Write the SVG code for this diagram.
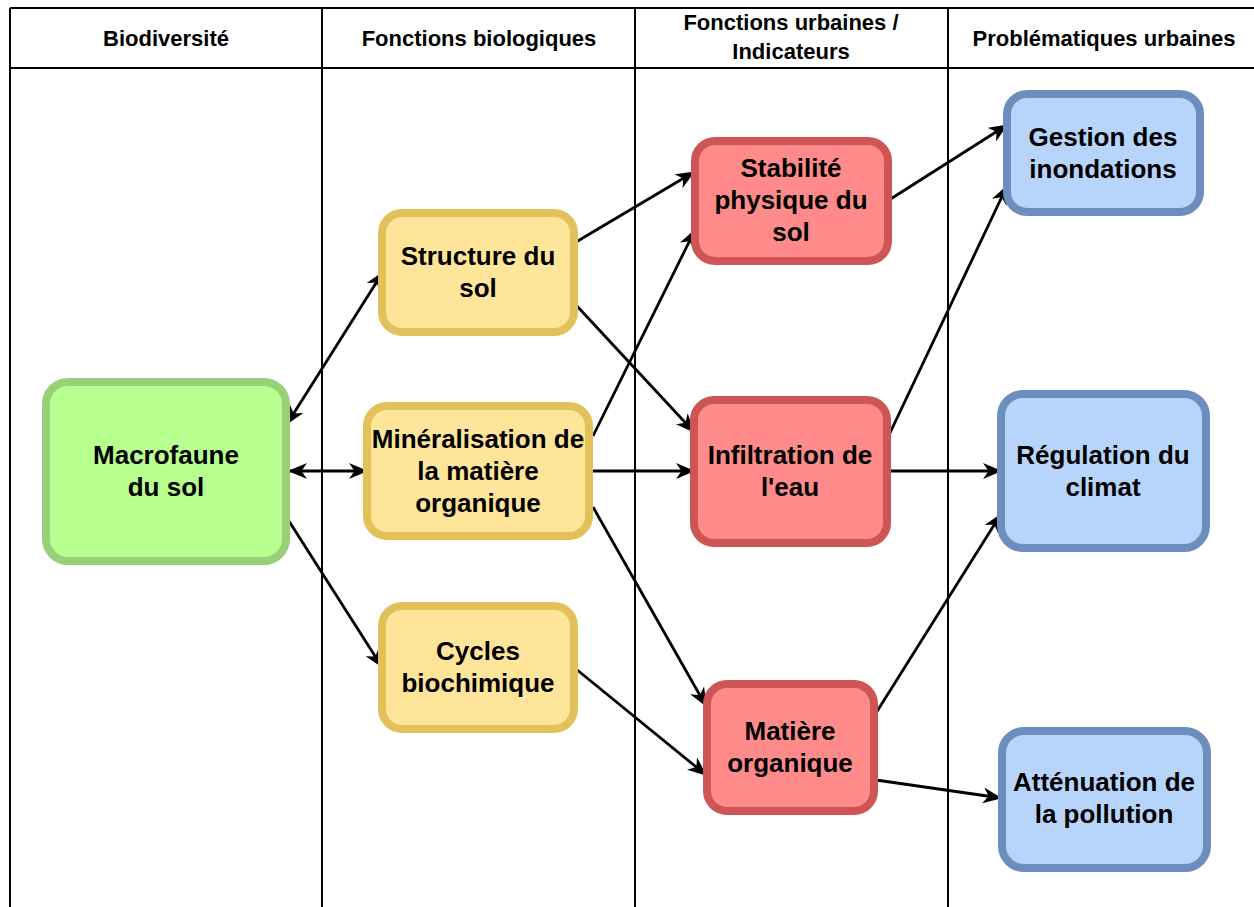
<svg xmlns="http://www.w3.org/2000/svg" width="1254" height="907" viewBox="0 0 1254 907">
<defs>
<style>
.grid{stroke:#000;stroke-width:2;fill:none}
.hd{font-family:"Liberation Sans",Arial,sans-serif;font-weight:bold;font-size:22px;fill:#000;text-anchor:middle}
.tx{font-family:"Liberation Sans",Arial,sans-serif;font-weight:bold;font-size:26px;fill:#000;text-anchor:middle}
.box{stroke-width:8}
.g{fill:#B7FF8E;stroke:#97D077}
.y{fill:#FFE599;stroke:#E3C15A}
.r{fill:#FF8A8A;stroke:#CF5555}
.b{fill:#B7D4FA;stroke:#6C8EBF}
.e{stroke:#000;stroke-width:2.8;fill:none;marker-end:url(#ah)}
.bi{marker-start:url(#as)}
</style>
<marker id="ah" viewBox="0 0 19 16" refX="18" refY="8" markerWidth="19" markerHeight="16" markerUnits="userSpaceOnUse" orient="auto">
<path d="M0,0 L19,8 L0,16 L5.5,8 Z" fill="#000"/>
</marker>
<marker id="as" viewBox="0 0 19 16" refX="1" refY="8" markerWidth="19" markerHeight="16" markerUnits="userSpaceOnUse" orient="auto">
<path d="M19,0 L0,8 L19,16 L13.5,8 Z" fill="#000"/>
</marker>
</defs>
<rect width="1254" height="907" fill="#fff"/>
<g id="table">
<path class="grid" d="M10,8 H1256 M10,68 H1256 M10,8 V907 M322,8 V907 M635,8 V907 M948,8 V907"/>
<text class="hd" x="166" y="46">Biodiversité</text>
<text class="hd" x="479" y="46">Fonctions biologiques</text>
<text class="hd" x="791" y="30">Fonctions urbaines /</text>
<text class="hd" x="791" y="59">Indicateurs</text>
<text class="hd" x="1104" y="46">Problématiques urbaines</text>
</g>
<g id="connectors">
<line class="e bi" x1="287" y1="424" x2="383" y2="272"/>
<line class="e bi" x1="289" y1="471" x2="367" y2="471"/>
<line class="e" x1="287" y1="518" x2="382" y2="667"/>
<line class="e" x1="576" y1="242" x2="694" y2="172"/>
<line class="e" x1="576" y1="305" x2="694" y2="432"/>
<line class="e" x1="593" y1="436" x2="695" y2="230"/>
<line class="e" x1="593" y1="471" x2="694" y2="471"/>
<line class="e" x1="593" y1="507" x2="706" y2="706"/>
<line class="e" x1="576" y1="669" x2="706" y2="775"/>
<line class="e" x1="889" y1="200" x2="1007" y2="125"/>
<line class="e" x1="889" y1="435" x2="1007" y2="186"/>
<line class="e" x1="889" y1="471" x2="1001" y2="471"/>
<line class="e" x1="876" y1="713" x2="1001" y2="514"/>
<line class="e" x1="876" y1="780" x2="1001" y2="798"/>
</g>
<g id="macrofaune">
<rect class="box g" x="46" y="382" width="240" height="179" rx="22"/>
<text class="tx" x="166" y="464">Macrofaune</text>
<text class="tx" x="166" y="496">du sol</text>
</g>
<g id="structure">
<rect class="box y" x="382" y="213" width="192" height="119" rx="20"/>
<text class="tx" x="478" y="265">Structure du</text>
<text class="tx" x="478" y="297">sol</text>
</g>
<g id="mineralisation">
<rect class="box y" x="367" y="406" width="222" height="130" rx="20"/>
<text class="tx" x="478" y="448">Minéralisation de</text>
<text class="tx" x="478" y="480">la matière</text>
<text class="tx" x="478" y="512">organique</text>
</g>
<g id="cycles">
<rect class="box y" x="382" y="606" width="192" height="123" rx="20"/>
<text class="tx" x="478" y="660">Cycles</text>
<text class="tx" x="478" y="692">biochimique</text>
</g>
<g id="stabilite">
<rect class="box r" x="695" y="141" width="193" height="120" rx="20"/>
<text class="tx" x="791" y="177">Stabilité</text>
<text class="tx" x="791" y="209">physique du</text>
<text class="tx" x="791" y="241">sol</text>
</g>
<g id="infiltration">
<rect class="box r" x="694" y="400" width="193" height="143" rx="20"/>
<text class="tx" x="790" y="464">Infiltration de</text>
<text class="tx" x="790" y="496">l'eau</text>
</g>
<g id="matiere">
<rect class="box r" x="707" y="684" width="167" height="127" rx="20"/>
<text class="tx" x="790" y="740">Matière</text>
<text class="tx" x="790" y="772">organique</text>
</g>
<g id="gestion">
<rect class="box b" x="1007" y="94" width="193" height="118" rx="20"/>
<text class="tx" x="1103" y="146">Gestion des</text>
<text class="tx" x="1103" y="178">inondations</text>
</g>
<g id="regulation">
<rect class="box b" x="1001" y="394" width="205" height="154" rx="22"/>
<text class="tx" x="1103" y="464">Régulation du</text>
<text class="tx" x="1103" y="496">climat</text>
</g>
<g id="attenuation">
<rect class="box b" x="1002" y="731" width="205" height="137" rx="22"/>
<text class="tx" x="1104" y="791">Atténuation de</text>
<text class="tx" x="1104" y="823">la pollution</text>
</g>
</svg>
